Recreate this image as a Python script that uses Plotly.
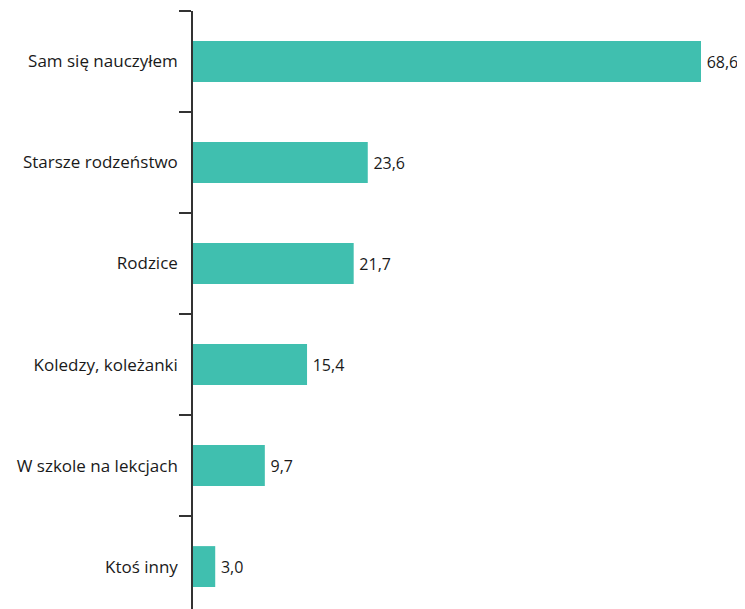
import plotly.graph_objects as go

categories = ["Sam się nauczyłem", "Starsze rodzeństwo", "Rodzice",
              "Koledzy, koleżanki", "W szkole na lekcjach", "Ktoś inny"]
values = [68.6, 23.6, 21.7, 15.4, 9.7, 3.0]
value_labels = ["68,6", "23,6", "21,7", "15,4", "9,7", "3,0"]

BAR_COLOR = "#40BFAF"
FONT = "Open Sans"

fig = go.Figure(go.Bar(
    x=values,
    y=categories,
    orientation="h",
    marker=dict(color=BAR_COLOR, line=dict(width=0)),
    width=0.405,
    text=["\u2009" + t for t in value_labels],
    textposition="outside",
    textfont=dict(family=FONT, size=16, color="#1a1a1a"),
    cliponaxis=False,
    hoverinfo="skip",
))

fig.update_layout(
    width=737, height=601,
    margin=dict(l=185, r=0, t=3, b=0, autoexpand=False),
    paper_bgcolor="white", plot_bgcolor="white",
    showlegend=False,
    xaxis=dict(range=[0, 68.6 * 552 / 508], visible=False, fixedrange=True,
               automargin=False),
    yaxis=dict(
        categoryorder="array", categoryarray=categories,
        range=[5.42, -0.5],
        showline=True, linecolor="#333333", linewidth=1.5,
        ticks="outside", ticklen=12, tickcolor="#333333", tickwidth=1.5,
        tickson="boundaries",
        ticklabelstandoff=10,
        automargin=False,
        showgrid=False, zeroline=False,
        tickfont=dict(family=FONT, size=17, color="#1a1a1a"),
        fixedrange=True,
    ),
)

fig.write_html("out.html")
